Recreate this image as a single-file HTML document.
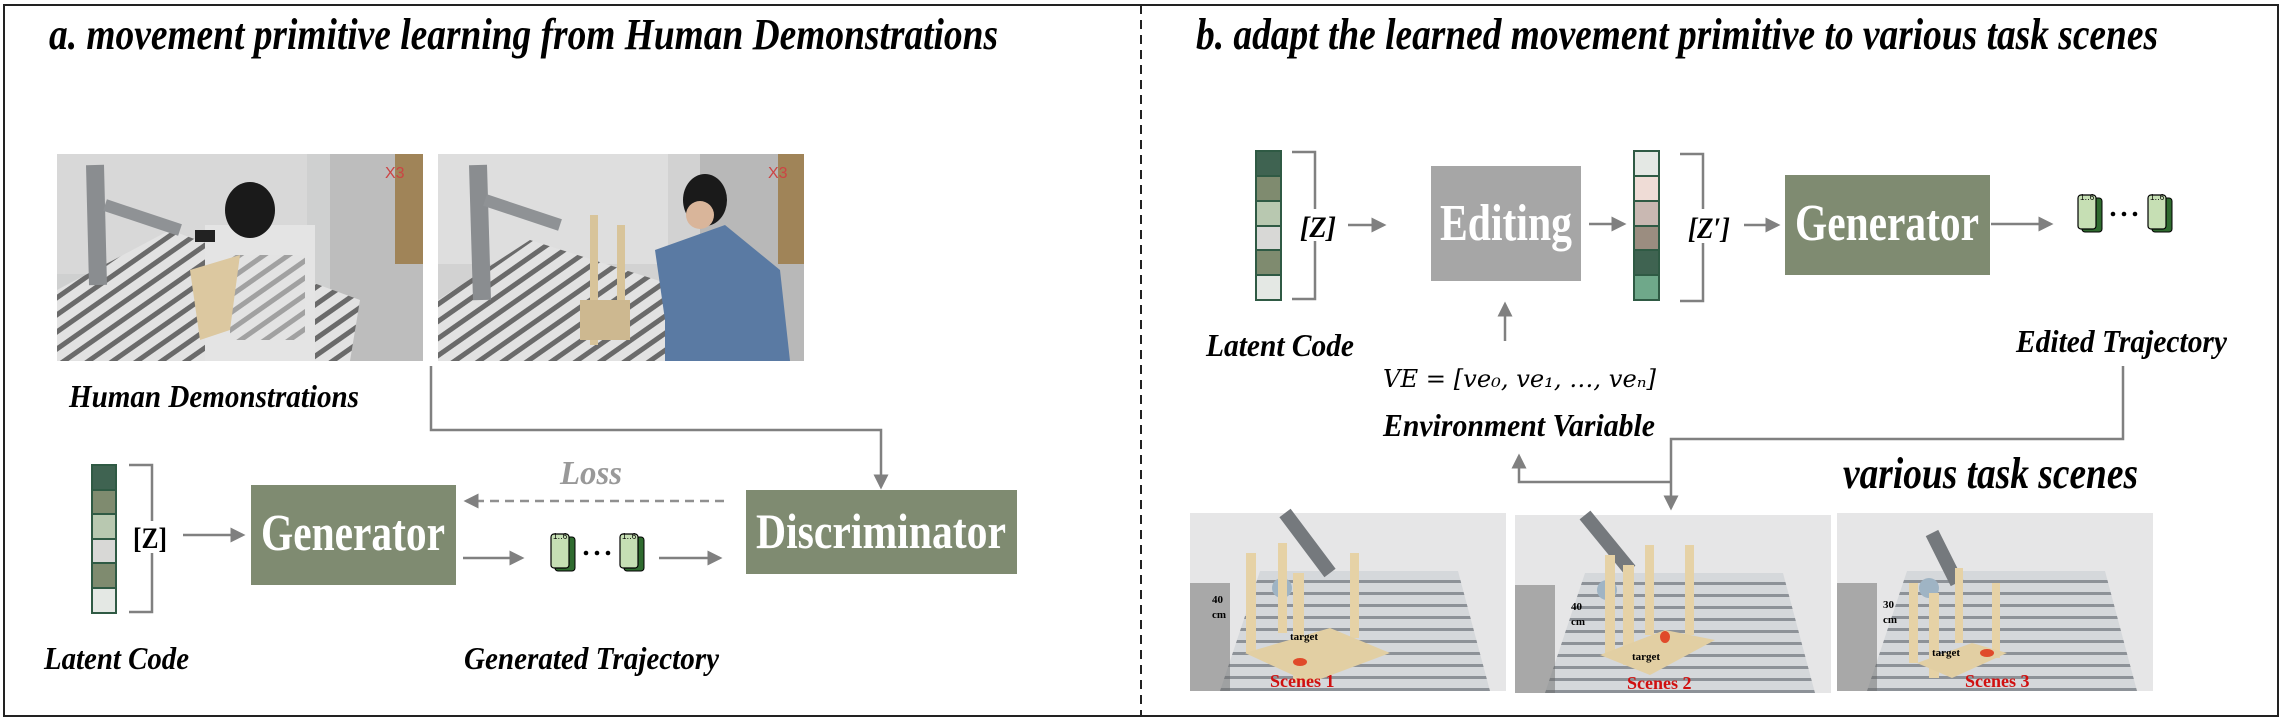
<!DOCTYPE html>
<html><head><meta charset="utf-8"><style>
html,body{margin:0;padding:0;background:#fff;}
svg{display:block;}
.t{font-family:"Liberation Serif",serif;font-weight:bold;font-style:italic;fill:#000;}
.bw{font-family:"Liberation Serif",serif;font-weight:bold;fill:#fff;}
</style></head><body>
<svg width="2282" height="719" viewBox="0 0 2282 719" xmlns="http://www.w3.org/2000/svg">
<defs>
<marker id="ah" markerWidth="6" markerHeight="6" refX="5" refY="3" orient="auto" markerUnits="strokeWidth">
<path d="M0,0 L6,3 L0,6 z" fill="#808080"/></marker>
<pattern id="stripes" width="12" height="12" patternUnits="userSpaceOnUse">
<rect width="12" height="12" fill="#d5d8db"/><rect y="7" width="12" height="3" fill="#8d9298"/></pattern>
<pattern id="dstripes" width="14" height="14" patternUnits="userSpaceOnUse" patternTransform="rotate(-35)">
<rect width="14" height="14" fill="#e2e2e2"/><rect y="8" width="14" height="5" fill="#6a6a6a"/></pattern>
<g id="traj">
<rect x="4" y="5" width="20" height="34" rx="3" fill="#2f6b2f" stroke="#000" stroke-width="1"/>
<rect x="0" y="2" width="18" height="34" rx="3" fill="#c6dfb4" stroke="#000" stroke-width="1.2"/>
</g>
<g id="scene">
<rect width="316" height="178" fill="#e6e6e7"/>
<polygon points="30,178 300,178 268,58 70,58" fill="url(#stripes)"/>
<rect x="0" y="70" width="40" height="108" fill="#6a6a6a" opacity="0.5"/>
<circle cx="92" cy="75" r="10" fill="#9fb4c4"/>
</g>
</defs>

<rect x="4" y="5" width="2274" height="711" fill="none" stroke="#222" stroke-width="2"/>
<line x1="1141" y1="5" x2="1141" y2="716" stroke="#222" stroke-width="2" stroke-dasharray="9,6"/>

<text class="t" x="49" y="49" font-size="44" textLength="949" lengthAdjust="spacingAndGlyphs">a. movement primitive learning from Human Demonstrations</text>
<text class="t" x="1196" y="49" font-size="44" textLength="962" lengthAdjust="spacingAndGlyphs">b. adapt the learned movement primitive to various task scenes</text>

<!-- Panel A photos -->
<g>
<rect x="57" y="154" width="366" height="207" fill="#cfd0d0"/>
<rect x="57" y="154" width="250" height="120" fill="#d8d8d8"/>
<rect x="330" y="154" width="93" height="207" fill="#bdbdbd"/>
<rect x="395" y="154" width="28" height="110" fill="#a08458"/>
<polygon points="57,290 170,230 360,300 350,361 57,361" fill="url(#dstripes)"/>
<path d="M95,165 L98,285" stroke="#8a8d90" stroke-width="18"/>
<path d="M105,205 L180,230" stroke="#8f9295" stroke-width="12"/>
<rect x="205" y="225" width="110" height="136" fill="#e4e4e4"/>
<rect x="230" y="255" width="75" height="85" fill="url(#dstripes)" opacity="0.55"/>
<ellipse cx="250" cy="210" rx="25" ry="28" fill="#1a1a1a"/>
<rect x="195" y="230" width="20" height="12" fill="#222"/>
<polygon points="190,270 240,255 230,330 200,340" fill="#dcc8a0"/>
<text x="385" y="178" font-family="Liberation Sans,sans-serif" font-size="16" fill="#c44">X3</text>
</g>
<g>
<rect x="438" y="154" width="366" height="207" fill="#d2d2d2"/>
<rect x="438" y="154" width="230" height="110" fill="#dedede"/>
<rect x="700" y="154" width="104" height="207" fill="#b8b8b8"/>
<rect x="778" y="154" width="26" height="110" fill="#a08458"/>
<polygon points="438,300 530,240 720,300 720,361 438,361" fill="url(#dstripes)"/>
<path d="M478,165 L482,300" stroke="#8a8d90" stroke-width="18"/>
<path d="M485,200 L560,225" stroke="#8f9295" stroke-width="12"/>
<rect x="590" y="215" width="8" height="130" fill="#d8c49a"/>
<rect x="617" y="225" width="8" height="115" fill="#d8c49a"/>
<rect x="580" y="300" width="50" height="40" fill="#cdb890"/>
<polygon points="655,250 725,225 780,270 790,361 665,361 665,320" fill="#5a7aa3"/>
<ellipse cx="705" cy="200" rx="22" ry="26" fill="#1a1a1a"/>
<ellipse cx="700" cy="215" rx="14" ry="14" fill="#d9b59a"/>
<text x="768" y="178" font-family="Liberation Sans,sans-serif" font-size="16" fill="#c44">X3</text>
</g>
<text class="t" x="69" y="407" font-size="32" textLength="290" lengthAdjust="spacingAndGlyphs">Human Demonstrations</text>

<polyline points="431,366 431,430 881,430 881,487" fill="none" stroke="#808080" stroke-width="2.5" marker-end="url(#ah)"/>

<g stroke="#2f5a44" stroke-width="2">
<rect x="92" y="465" width="24" height="25" fill="#3f6351"/>
<rect x="92" y="490" width="24" height="24" fill="#7f8b6f"/>
<rect x="92" y="514" width="24" height="25" fill="#b8c8b0"/>
<rect x="92" y="539" width="24" height="24" fill="#d8d8d6"/>
<rect x="92" y="563" width="24" height="25" fill="#7f8b6f"/>
<rect x="92" y="588" width="24" height="25" fill="#e4e8e4"/>
</g>
<polyline points="129,465 152,465 152,521" fill="none" stroke="#808080" stroke-width="2.5"/>
<polyline points="152,553 152,612 129,612" fill="none" stroke="#808080" stroke-width="2.5"/>
<text x="133" y="548" font-family="Liberation Serif,serif" font-size="30" font-weight="bold" textLength="34" lengthAdjust="spacingAndGlyphs">[Z]</text>
<line x1="183" y1="535" x2="243" y2="535" stroke="#808080" stroke-width="2.5" marker-end="url(#ah)"/>

<rect x="251" y="485" width="205" height="100" fill="#7f8b71"/>
<text class="bw" x="261" y="550" font-size="52" textLength="184" lengthAdjust="spacingAndGlyphs">Generator</text>

<line x1="724" y1="501" x2="466" y2="501" stroke="#909090" stroke-width="2.5" stroke-dasharray="9,6" marker-end="url(#ah)"/>
<text x="560" y="484" font-family="Liberation Serif,serif" font-weight="bold" font-style="italic" font-size="34" fill="#999" textLength="62" lengthAdjust="spacingAndGlyphs">Loss</text>

<line x1="463" y1="558" x2="522" y2="558" stroke="#808080" stroke-width="2.5" marker-end="url(#ah)"/>
<use href="#traj" x="551" y="532"/>
<use href="#traj" x="620" y="532"/>
<text x="553" y="539" font-family="Liberation Sans,sans-serif" font-size="8">1‥6</text>
<text x="622" y="539" font-family="Liberation Sans,sans-serif" font-size="8">1‥6</text>
<circle cx="586" cy="553" r="2.3" fill="#000"/><circle cx="597" cy="553" r="2.3" fill="#000"/><circle cx="608" cy="553" r="2.3" fill="#000"/>
<line x1="659" y1="558" x2="720" y2="558" stroke="#808080" stroke-width="2.5" marker-end="url(#ah)"/>

<rect x="746" y="490" width="271" height="84" fill="#7f8b71"/>
<text class="bw" x="756" y="548" font-size="50" textLength="250" lengthAdjust="spacingAndGlyphs">Discriminator</text>

<text class="t" x="44" y="669" font-size="32" textLength="145" lengthAdjust="spacingAndGlyphs">Latent Code</text>
<text class="t" x="464" y="669" font-size="32" textLength="255" lengthAdjust="spacingAndGlyphs">Generated Trajectory</text>

<!-- Panel B -->
<g stroke="#2f5a44" stroke-width="2">
<rect x="1256" y="151" width="25" height="25" fill="#3f6351"/>
<rect x="1256" y="176" width="25" height="25" fill="#7f8b6f"/>
<rect x="1256" y="201" width="25" height="25" fill="#b8c8b0"/>
<rect x="1256" y="226" width="25" height="24" fill="#d8d8d6"/>
<rect x="1256" y="250" width="25" height="25" fill="#7f8b6f"/>
<rect x="1256" y="275" width="25" height="25" fill="#e4e8e4"/>
</g>
<polyline points="1292,152 1315,152 1315,209" fill="none" stroke="#808080" stroke-width="2.5"/>
<polyline points="1315,241 1315,299 1292,299" fill="none" stroke="#808080" stroke-width="2.5"/>
<text x="1300" y="237" font-family="Liberation Serif,serif" font-size="30" font-style="italic" font-weight="bold" textLength="36" lengthAdjust="spacingAndGlyphs">[Z]</text>
<line x1="1348" y1="225" x2="1384" y2="225" stroke="#808080" stroke-width="2.5" marker-end="url(#ah)"/>

<rect x="1431" y="166" width="150" height="115" fill="#a6a6a6"/>
<text class="bw" x="1440" y="240" font-size="52" textLength="132" lengthAdjust="spacingAndGlyphs">Editing</text>
<line x1="1589" y1="224" x2="1624" y2="224" stroke="#808080" stroke-width="2.5" marker-end="url(#ah)"/>

<g stroke="#2f5a44" stroke-width="2">
<rect x="1634" y="151" width="25" height="25" fill="#e4e8e4"/>
<rect x="1634" y="176" width="25" height="25" fill="#efdcd6"/>
<rect x="1634" y="201" width="25" height="25" fill="#c9b8b2"/>
<rect x="1634" y="226" width="25" height="24" fill="#9b8d80"/>
<rect x="1634" y="250" width="25" height="25" fill="#3f6351"/>
<rect x="1634" y="275" width="25" height="25" fill="#6fa88a"/>
</g>
<polyline points="1680,154 1703,154 1703,209" fill="none" stroke="#808080" stroke-width="2.5"/>
<polyline points="1703,243 1703,301 1680,301" fill="none" stroke="#808080" stroke-width="2.5"/>
<text x="1688" y="238" font-family="Liberation Serif,serif" font-size="30" font-style="italic" font-weight="bold" textLength="42" lengthAdjust="spacingAndGlyphs">[Z′]</text>
<line x1="1744" y1="225" x2="1778" y2="225" stroke="#808080" stroke-width="2.5" marker-end="url(#ah)"/>

<rect x="1785" y="175" width="205" height="100" fill="#7f8b71"/>
<text class="bw" x="1795" y="240" font-size="52" textLength="184" lengthAdjust="spacingAndGlyphs">Generator</text>
<line x1="1991" y1="224" x2="2051" y2="224" stroke="#808080" stroke-width="2.5" marker-end="url(#ah)"/>
<use href="#traj" x="2078" y="193"/>
<use href="#traj" x="2148" y="193"/>
<text x="2080" y="200" font-family="Liberation Sans,sans-serif" font-size="8">1‥6</text>
<text x="2150" y="200" font-family="Liberation Sans,sans-serif" font-size="8">1‥6</text>
<circle cx="2113" cy="214" r="2.3" fill="#000"/><circle cx="2124" cy="214" r="2.3" fill="#000"/><circle cx="2135" cy="214" r="2.3" fill="#000"/>

<line x1="1505" y1="341" x2="1505" y2="304" stroke="#808080" stroke-width="2.5" marker-end="url(#ah)"/>

<text class="t" x="1206" y="356" font-size="32" textLength="148" lengthAdjust="spacingAndGlyphs">Latent Code</text>
<text x="1383" y="387" font-family="DejaVu Serif,serif" font-style="italic" font-size="24" textLength="273" lengthAdjust="spacingAndGlyphs">VE = [ve₀, ve₁, …, veₙ]</text>
<text class="t" x="1383" y="436" font-size="32" textLength="272" lengthAdjust="spacingAndGlyphs">Environment Variable</text>
<text class="t" x="2016" y="352" font-size="32" textLength="211" lengthAdjust="spacingAndGlyphs">Edited Trajectory</text>

<polyline points="2123,366 2123,439 1671,439 1671,508" fill="none" stroke="#808080" stroke-width="2.5" marker-end="url(#ah)"/>
<polyline points="1671,482 1519,482 1519,456" fill="none" stroke="#808080" stroke-width="2.5" marker-end="url(#ah)"/>

<text class="t" x="1843" y="488" font-size="44" textLength="295" lengthAdjust="spacingAndGlyphs">various task scenes</text>

<g transform="translate(1190,513)">
<use href="#scene"/>
<path d="M95,0 L140,60" stroke="#75797d" stroke-width="14"/>
<rect x="56" y="40" width="10" height="100" fill="#e6d2a6"/><rect x="88" y="30" width="9" height="90" fill="#e6d2a6"/>
<rect x="160" y="40" width="9" height="85" fill="#e6d2a6"/><rect x="103" y="60" width="11" height="110" fill="#e6d2a6"/>
<polygon points="55,140 120,170 200,140 140,115" fill="#e2cfa3"/>
<text x="22" y="90" font-family="Liberation Serif,serif" font-weight="bold" font-size="11">40</text>
<text x="22" y="105" font-family="Liberation Serif,serif" font-weight="bold" font-size="11">cm</text>
<text x="100" y="127" font-family="Liberation Serif,serif" font-weight="bold" font-size="11">target</text>
<ellipse cx="110" cy="149" rx="7" ry="4" fill="#e04a2a"/>
<text x="80" y="174" font-family="Liberation Serif,serif" font-weight="bold" font-size="18" fill="#d01010">Scenes 1</text>
</g>
<g transform="translate(1515,515)">
<use href="#scene"/>
<path d="M70,0 L115,55" stroke="#75797d" stroke-width="14"/>
<rect x="90" y="40" width="10" height="100" fill="#e6d2a6"/><rect x="130" y="30" width="9" height="90" fill="#e6d2a6"/>
<rect x="170" y="30" width="9" height="90" fill="#e6d2a6"/><rect x="108" y="50" width="11" height="100" fill="#e6d2a6"/>
<polygon points="85,140 135,160 200,125 150,115" fill="#e2cfa3"/>
<text x="56" y="95" font-family="Liberation Serif,serif" font-weight="bold" font-size="11">40</text>
<text x="56" y="110" font-family="Liberation Serif,serif" font-weight="bold" font-size="11">cm</text>
<text x="117" y="145" font-family="Liberation Serif,serif" font-weight="bold" font-size="11">target</text>
<ellipse cx="150" cy="122" rx="5" ry="6" fill="#e04a2a"/>
<text x="112" y="174" font-family="Liberation Serif,serif" font-weight="bold" font-size="18" fill="#d01010">Scenes 2</text>
</g>
<g transform="translate(1837,513)">
<use href="#scene"/>
<path d="M95,20 L120,70" stroke="#75797d" stroke-width="14"/>
<rect x="72" y="70" width="9" height="80" fill="#e6d2a6"/><rect x="118" y="55" width="8" height="75" fill="#e6d2a6"/>
<rect x="155" y="70" width="8" height="75" fill="#e6d2a6"/><rect x="92" y="80" width="10" height="85" fill="#e6d2a6"/>
<polygon points="80,150 115,165 170,140 135,130" fill="#e2cfa3"/>
<text x="46" y="95" font-family="Liberation Serif,serif" font-weight="bold" font-size="11">30</text>
<text x="46" y="110" font-family="Liberation Serif,serif" font-weight="bold" font-size="11">cm</text>
<text x="95" y="143" font-family="Liberation Serif,serif" font-weight="bold" font-size="11">target</text>
<ellipse cx="150" cy="140" rx="7" ry="4" fill="#e04a2a"/>
<text x="128" y="174" font-family="Liberation Serif,serif" font-weight="bold" font-size="18" fill="#d01010">Scenes 3</text>
</g>
</svg>
</body></html>
